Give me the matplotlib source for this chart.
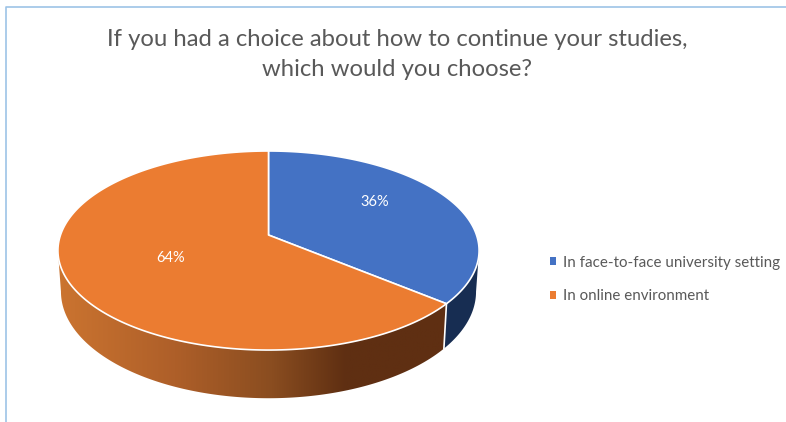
import numpy as np
import matplotlib
matplotlib.use("Agg")
import matplotlib.pyplot as plt
from matplotlib.colors import LinearSegmentedColormap
from matplotlib.patches import Patch, Polygon

title = "If you had a choice about how to continue your studies,\nwhich would you choose?"
categories = ["In face-to-face university setting", "In online environment"]
shares = [36, 64]

face_colors = ["#4472C4", "#EB7C31"]
wall_dark_blue = "#172D52"
text_grey = "#595959"
frame_color = "#9DC3E6"

plt.rcParams["font.family"] = ["Lato", "DejaVu Sans"]


def project(theta, cx, cy, rx, ry, k=0.156):
    # theta runs clockwise from 12 o'clock, tilted disc with some perspective
    u, v = np.sin(theta), np.cos(theta)
    d = 1 + k * v
    return np.column_stack([cx + rx * u / d, cy - ry * v / d])


def top_rim(theta):
    return project(theta, 268.5, 235, 208, 97.1)


def bottom_rim(theta):
    return project(theta, 268.5, 275, 205, 104)


fig = plt.figure(figsize=(7.86, 4.22), dpi=100)
ax = fig.add_axes([0, 0, 1, 1])

# running slice boundaries
edges = np.radians(np.cumsum([0] + shares) * 3.6)
boundary = edges[1]
wall_start = np.radians(99)
wall_end = np.radians(261)

# outer walls first
th = np.linspace(wall_start, boundary, 60)
blue_wall = np.vstack([top_rim(th), bottom_rim(th)[::-1]])
ax.add_patch(Polygon(blue_wall, closed=True, fc=wall_dark_blue, ec="none", zorder=1))

th = np.linspace(boundary, wall_end, 200)
orange_wall = np.vstack([top_rim(th), bottom_rim(th)[::-1]])
wall_patch = Polygon(orange_wall, closed=True, fc="none", ec="none", zorder=1)
ax.add_patch(wall_patch)
wall_cmap = LinearSegmentedColormap.from_list(
    "wall", [(0, "#CB7430"), (0.3, "#AE5F29"), (0.55, "#8A4D20"), (0.74, "#5F2F12"), (1, "#5F2F12")]
)
grad = np.linspace(0, 1, 256).reshape(1, -1)
img = ax.imshow(grad, extent=[58, 447, 422, 240], cmap=wall_cmap, aspect="auto", zorder=1)
img.set_clip_path(wall_patch)

# white seam between the two walls
seam = np.vstack([top_rim(np.array([boundary])), bottom_rim(np.array([boundary]))])
ax.plot(seam[:, 0], seam[:, 1], color="white", lw=1.2, zorder=2)

# top faces
centre = np.array([[268.5, 235.0]])
for i, color in enumerate(face_colors):
    th = np.linspace(edges[i], edges[i + 1], 200)
    pts = np.vstack([centre, top_rim(th)])
    ax.add_patch(Polygon(pts, closed=True, fc=color, ec="white", lw=1.2, joinstyle="round", zorder=3))

ax.text(375, 202.5, f"{shares[0]}%", color="white", fontsize=10.5, ha="center", va="center", zorder=4)
ax.text(171, 257.5, f"{shares[1]}%", color="white", fontsize=10.5, ha="center", va="center", zorder=4)

ax.text(397, 54.5, title, color=text_grey, fontsize=17.2, ha="center", va="center", linespacing=1.52)

handles = [Patch(fc=c, ec="none", label=n) for c, n in zip(face_colors, categories)]
ax.legend(handles=handles, loc="upper left", bbox_to_anchor=(550 / 786, 1 - 255.5 / 422), frameon=False,
          fontsize=10.9, labelcolor=text_grey, handlelength=0.4, handleheight=0.4, handletextpad=0.45,
          labelspacing=1.3, borderpad=0, borderaxespad=0)

# chart frame, cut off on the right and at the bottom
ax.plot([6, 6, 786], [422, 7, 7], color=frame_color, lw=1.2, zorder=5)

ax.set_xlim(0, 786)
ax.set_ylim(422, 0)
ax.axis("off")

fig.savefig("out.png", dpi=100, facecolor="white")
